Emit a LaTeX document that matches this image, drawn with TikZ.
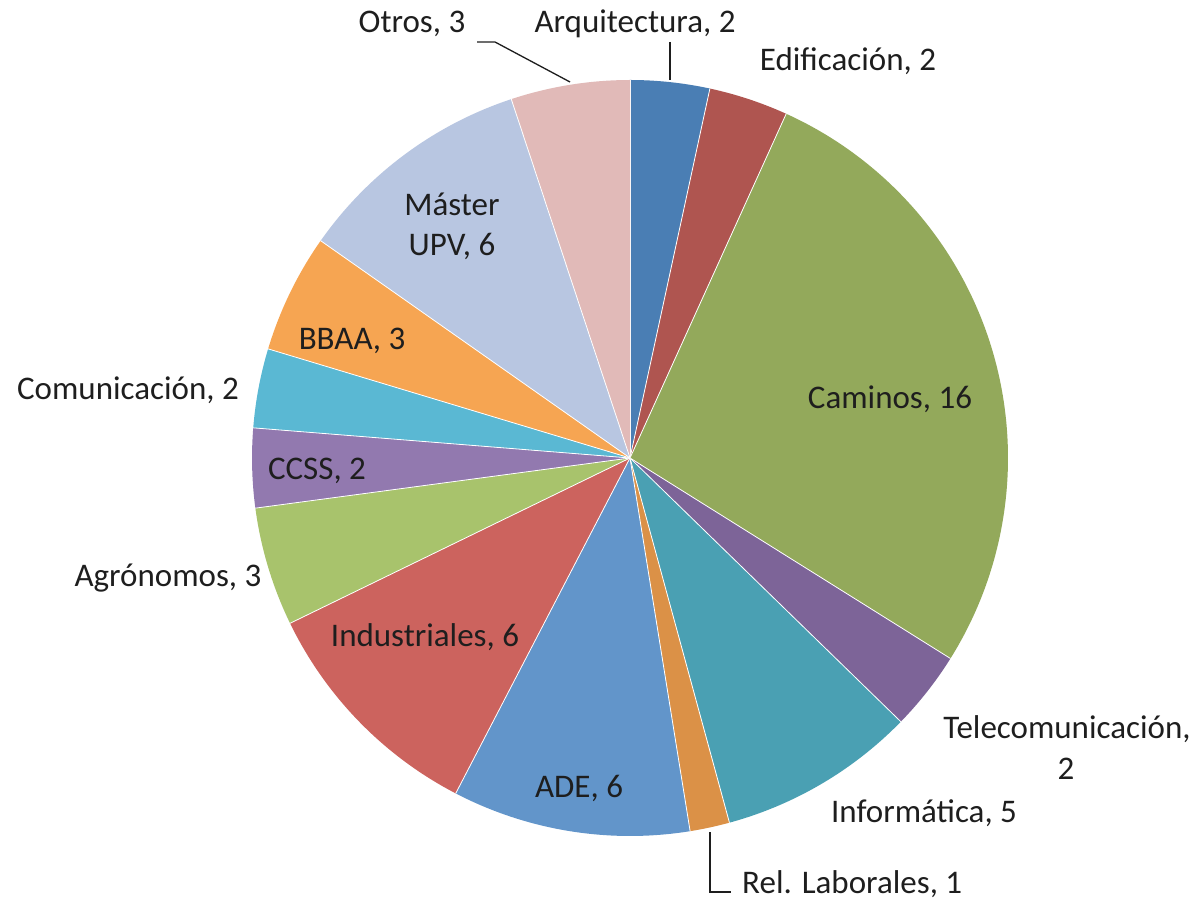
\documentclass[tikz,border=0pt]{standalone}
\usepackage{fontspec}
\setmainfont{Carlito}
\definecolor{cArq}{HTML}{4A7EB4}
\definecolor{cEdi}{HTML}{AF5550}
\definecolor{cCam}{HTML}{93A95B}
\definecolor{cTel}{HTML}{7D6498}
\definecolor{cInf}{HTML}{4AA0B3}
\definecolor{cRel}{HTML}{DB9147}
\definecolor{cADE}{HTML}{6295CA}
\definecolor{cInd}{HTML}{CC635E}
\definecolor{cAgr}{HTML}{A8C36C}
\definecolor{cCCS}{HTML}{9279AF}
\definecolor{cCom}{HTML}{5AB8D3}
\definecolor{cBBA}{HTML}{F6A552}
\definecolor{cMas}{HTML}{B8C6E1}
\definecolor{cOtr}{HTML}{E1BAB8}
\definecolor{txt}{HTML}{1E1E1E}
\begin{document}
\begin{tikzpicture}[x=1pt,y=1pt,
  lbl/.style={text=txt,inner sep=0pt,font=\fontsize{33pt}{40pt}\selectfont},
  leader/.style={draw=txt,line width=1.3pt},
  slice/.style={draw=white,line width=0.8pt,line join=round}]
\useasboundingbox (0,0) rectangle (1201,902);
\coordinate (O) at (630,444);
\def\u{6.101695}
\def\R{378}
\newcommand\pieslice[3]{%
  \pgfmathsetmacro\sa{90-#1*\u}%
  \pgfmathsetmacro\ea{90-#2*\u}%
  \fill[#3] (O) -- ++(\sa:\R) arc[start angle=\sa,end angle=\ea,radius=\R] -- cycle;
  \draw[slice] (O) -- ++(\sa:\R);}
\pieslice{0}{2}{cArq}
\pieslice{2}{4}{cEdi}
\pieslice{4}{20}{cCam}
\pieslice{20}{22}{cTel}
\pieslice{22}{27}{cInf}
\pieslice{27}{28}{cRel}
\pieslice{28}{34}{cADE}
\pieslice{34}{40}{cInd}
\pieslice{40}{43}{cAgr}
\pieslice{43}{45}{cCCS}
\pieslice{45}{47}{cCom}
\pieslice{47}{50}{cBBA}
\pieslice{50}{56}{cMas}
\pieslice{56}{59}{cOtr}
% labels
\node[lbl,anchor=base] (arq) at (635,869) {Arquitectura, 2};
\node[lbl,anchor=base] (otr) at (412,869) {Otros, 3};
\node[lbl,anchor=base] (edi) at (848,831) {Edificación, 2};
\node[lbl,anchor=base] (cam) at (890,493) {Caminos, 16};
\node[lbl,anchor=base] (tel) at (1067,164) {Telecomunicación,};
\node[lbl,anchor=base] (tel2) at (1066,123) {2};
\node[lbl,anchor=base] (inf) at (924,80) {Informática, 5};
\node[lbl,anchor=base west] (rel) at (742,9) {Rel. Laborales, 1};
\node[lbl,anchor=base] (ade) at (579,105) {ADE, 6};
\node[lbl,anchor=base] (ind) at (425,255) {Industriales, 6};
\node[lbl,anchor=base] (agr) at (168,315) {Agrónomos, 3};
\node[lbl,anchor=base] (ccs) at (317,422) {CCSS, 2};
\node[lbl,anchor=base] (com) at (128,502) {Comunicación, 2};
\node[lbl,anchor=base] (bba) at (352,552) {BBAA, 3};
\node[lbl,anchor=base] (mas) at (452,686) {Máster};
\node[lbl,anchor=base] (mas2) at (452,646) {UPV, 6};
% leader lines
\coordinate (arqA) at (670,860);
\coordinate (arqB) at (670,822);
\draw[leader] (arqA) -- (arqB);
\coordinate (otrA) at (477,860);
\coordinate (otrB) at (495,860);
\coordinate (otrC) at (570,820);
\draw[leader] (otrA) -- (otrB) -- (otrC);
\coordinate (relA) at (710,70);
\coordinate (relB) at (710,10);
\coordinate (relC) at (731,10);
\draw[leader] (relA) -- (relB) -- (relC);
\end{tikzpicture}
\end{document}
